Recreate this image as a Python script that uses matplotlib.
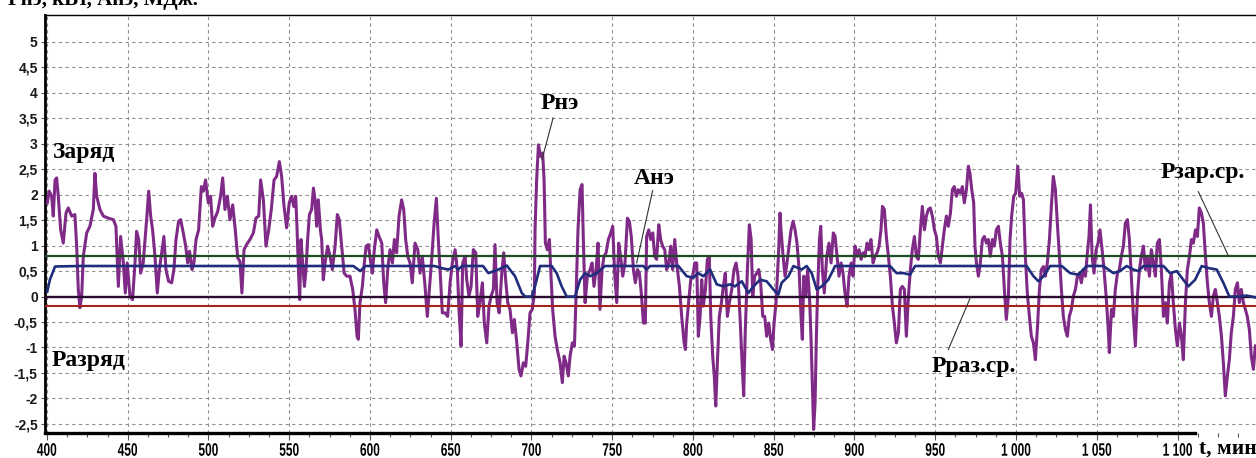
import matplotlib
matplotlib.use("Agg")
import matplotlib.pyplot as plt
from matplotlib.ticker import MultipleLocator, FuncFormatter
from matplotlib.patheffects import AbstractPathEffect
from matplotlib.transforms import Affine2D

# Рнэ — мощность накопителя (время, мин / значение)
pne_t = [400.2, 401.4, 402.9, 403.9, 405.0, 406.0, 407.0, 408.5, 410.1, 411.8, 413.2, 415.3, 417.3, 418.4,
         419.4, 420.4, 421.5, 422.5, 424.6, 426.6, 428.7, 429.7, 430.8, 432.8, 434.9, 438.0, 441.1, 442.7,
         444.2, 445.6, 447.3, 448.5, 449.7, 451.4, 453.0, 454.5, 455.5, 456.8, 458.0, 459.6, 461.7, 463.0,
         464.2, 465.4, 466.9, 468.3, 469.6, 471.0, 472.4, 473.7, 475.3, 477.2, 478.6, 479.9, 481.5, 482.8,
         484.4, 485.9, 487.1, 488.3, 489.8, 491.0, 492.3, 493.9, 495.6, 496.8, 498.2, 499.9, 501.3, 502.6,
         504.0, 505.7, 507.5, 508.8, 510.2, 511.7, 513.3, 515.0, 516.6, 518.1, 519.5, 520.7, 522.0, 523.6,
         525.7, 527.8, 529.4, 531.1, 532.3, 534.0, 535.6, 537.3, 538.9, 540.6, 542.2, 543.9, 545.3, 546.8,
         548.4, 550.0, 551.5, 552.8, 554.0, 554.8, 555.7, 556.5, 557.3, 558.3, 559.4, 560.4, 561.4, 562.5,
         563.9, 565.0, 566.0, 567.0, 568.0, 569.3, 570.1, 571.1, 572.2, 573.8, 575.3, 576.7, 578.4, 579.8,
         581.0, 582.5, 584.0, 585.6, 587.6, 589.3, 590.7, 592.0, 592.8, 593.8, 595.3, 596.5, 597.6, 599.0,
         600.2, 601.5, 602.7, 604.2, 605.6, 607.3, 608.5, 609.7, 611.0, 612.4, 613.9, 615.1, 616.5, 618.0,
         619.6, 620.9, 622.1, 623.4, 624.8, 626.2, 627.9, 629.6, 631.0, 632.4, 634.1, 635.5, 636.8, 638.2,
         639.7, 641.1, 642.3, 643.6, 644.8, 646.5, 648.1, 649.6, 651.0, 652.7, 654.1, 655.1, 656.4, 657.4,
         658.9, 659.9, 661.3, 662.6, 664.0, 665.5, 666.7, 668.1, 669.6, 670.8, 672.3, 673.7, 675.0, 676.4,
         677.4, 678.7, 680.0, 681.6, 682.8, 684.0, 685.3, 686.7, 688.2, 689.4, 690.9, 692.3, 693.5, 695.0,
         696.4, 697.7, 699.1, 700.5, 701.8, 702.2, 703.2, 704.3, 705.7, 706.9, 707.8, 708.6, 709.8, 711.1,
         711.9, 713.1, 714.6, 716.0, 717.7, 719.1, 720.2, 721.4, 722.8, 723.9, 725.3, 726.6, 727.6, 728.8,
         730.1, 731.3, 732.1, 733.2, 734.6, 736.3, 737.5, 738.7, 740.0, 741.2, 742.4, 743.7, 744.9, 746.2,
         747.6, 749.1, 750.3, 751.5, 752.8, 754.0, 755.2, 756.5, 757.9, 759.4, 760.6, 761.8, 763.1, 764.3,
         765.6, 766.8, 768.0, 769.3, 770.5, 771.3, 772.6, 773.8, 775.1, 776.3, 777.5, 778.8, 780.0, 781.2,
         782.5, 783.7, 785.0, 786.2, 787.4, 788.7, 789.9, 791.6, 793.0, 794.5, 795.3, 796.1, 797.3, 798.6,
         799.8, 801.1, 802.3, 803.3, 804.4, 805.4, 806.4, 807.7, 808.9, 810.1, 811.0, 812.2, 813.2, 814.1,
         815.1, 816.3, 817.6, 818.8, 820.0, 821.3, 822.5, 824.0, 825.4, 826.7, 827.9, 829.1, 830.4, 831.4,
         832.4, 833.7, 834.9, 836.0, 837.0, 838.2, 839.5, 840.7, 841.9, 843.2, 844.4, 845.6, 846.9, 848.1,
         849.2, 850.2, 851.4, 853.0, 853.9, 854.5, 855.8, 857.0, 858.2, 859.5, 860.7, 862.0, 863.2, 864.4,
         865.7, 866.9, 867.7, 868.6, 869.8, 871.0, 872.3, 873.1, 873.9, 874.7, 875.6, 876.4, 877.2, 878.3,
         879.1, 880.1, 881.3, 882.8, 884.2, 885.5, 886.9, 888.0, 889.2, 890.4, 891.7, 892.9, 894.1, 895.4,
         896.6, 897.9, 899.1, 900.3, 901.6, 902.8, 904.1, 905.3, 906.5, 907.8, 909.0, 910.2, 911.5, 912.7,
         914.0, 915.2, 916.4, 917.3, 918.5, 919.7, 921.0, 922.2, 923.5, 924.7, 925.9, 927.2, 928.4, 929.6,
         930.9, 932.1, 933.4, 934.6, 935.8, 937.1, 938.3, 939.5, 940.8, 942.0, 943.3, 944.5, 945.7, 947.0,
         948.2, 949.5, 950.7, 951.9, 953.2, 954.4, 955.6, 956.9, 958.1, 959.4, 960.6, 961.8, 963.1, 964.3,
         965.6, 966.8, 968.0, 969.3, 970.5, 971.5, 972.6, 973.8, 974.6, 975.5, 976.7, 977.9, 979.2, 980.4,
         981.7, 982.9, 984.1, 985.4, 986.6, 987.8, 989.1, 990.3, 991.6, 992.8, 994.0, 995.3, 996.3, 997.3,
         998.6, 999.8, 1001.1, 1002.3, 1003.5, 1004.6, 1005.8, 1007.0, 1008.3, 1009.5, 1010.8, 1012.0, 1013.2,
         1014.5, 1015.7, 1017.0, 1018.2, 1019.4, 1020.7, 1021.9, 1023.1, 1024.4, 1025.6, 1026.9, 1028.1,
         1029.3, 1030.6, 1031.8, 1033.0, 1034.3, 1035.5, 1036.8, 1038.0, 1039.2, 1040.5, 1041.7, 1043.0,
         1044.2, 1045.2, 1046.1, 1047.1, 1048.3, 1049.6, 1050.8, 1052.0, 1053.3, 1054.5, 1055.8, 1057.0,
         1057.8, 1059.1, 1060.3, 1061.5, 1062.8, 1064.0, 1065.2, 1066.5, 1067.7, 1069.0, 1070.2, 1071.4,
         1072.7, 1073.9, 1075.2, 1076.4, 1077.6, 1078.9, 1080.1, 1081.3, 1082.6, 1083.8, 1085.1, 1086.3,
         1087.5, 1088.8, 1090.0, 1091.3, 1092.5, 1093.7, 1095.0, 1096.2, 1097.4, 1098.7, 1099.9, 1101.2,
         1102.4, 1103.6, 1104.9, 1106.1, 1107.4, 1108.6, 1109.8, 1111.1, 1112.3, 1113.5, 1114.8, 1116.0,
         1117.3, 1118.5, 1119.7, 1121.0, 1122.2, 1123.4, 1124.7, 1125.9, 1127.2, 1128.4, 1129.6, 1130.9,
         1132.1, 1133.3, 1134.6, 1135.8, 1137.1, 1138.3, 1139.5, 1140.8, 1142.0, 1143.2, 1144.5, 1145.7,
         1147.0, 1148.2]
pne_v = [1.84, 2.07, 1.97, 1.58, 2.29, 2.33, 1.97, 1.31, 1.05, 1.64, 1.74, 1.58, 1.61, 0.99,
         0.14, -0.22, 0.01, 0.79, 1.25, 1.38, 1.71, 2.42, 1.97, 1.71, 1.58, 1.54, 1.51, 1.38,
         0.20, 1.18, 0.66, 0.07, 0.66, 0.01, -0.06, 0.66, 1.28, 1.12, 0.46, 0.66, 1.51, 2.07,
         1.58, 1.31, 0.79, 0.07, 0.53, 0.86, 1.18, 0.53, 0.30, 0.27, 0.53, 1.12, 1.48, 1.51,
         1.25, 0.99, 0.66, 0.89, 0.53, 0.66, 1.12, 1.31, 2.16, 2.07, 2.29, 1.84, 1.97, 1.38,
         1.54, 1.67, 1.97, 2.33, 1.71, 1.97, 1.51, 1.80, 1.31, 0.76, 0.69, 0.07, 0.92, 1.02,
         1.12, 1.25, 1.54, 1.58, 2.29, 1.90, 0.99, 1.31, 1.71, 2.29, 2.36, 2.65, 2.36, 1.77,
         1.35, 1.84, 1.97, 1.77, 1.97, 1.38, 0.53, -0.06, 1.12, 0.66, 0.20, 0.53, 1.12, 1.61,
         1.71, 2.13, 1.90, 1.38, 1.90, 1.31, 1.12, 0.33, 0.66, 0.99, 0.79, 0.53, 0.99, 1.61,
         1.51, 0.99, 0.46, 0.40, 0.40, 0.14, -0.25, -0.78, -0.84, -0.12, 0.20, 0.66, 0.99, 1.02,
         0.73, 0.46, 0.92, 1.31, 1.18, 1.05, 0.27, -0.12, 0.53, 0.92, 0.66, 1.12, 0.86, 1.58,
         1.90, 1.71, 1.12, 0.79, 0.66, 0.27, 1.05, 0.92, 0.46, 0.79, 0.20, -0.39, 0.14, 0.73,
         1.44, 1.93, 1.12, 0.40, -0.32, -0.32, -0.39, 0.27, 0.66, 0.92, 0.53, -0.25, -0.97, 0.66,
         0.79, 0.33, 0.01, 0.20, 0.92, 0.86, -0.39, -0.12, 0.27, -0.52, -0.91, -0.19, 0.01, 0.14,
         1.02, -0.12, -0.32, 0.46, 0.86, 0.33, -0.12, -0.25, -0.71, -0.45, -0.91, -1.43, -1.56, -1.30,
         -1.37, -0.91, -0.32, -0.25, 0.07, 1.31, 2.29, 2.98, 2.75, 2.82, 2.29, 1.05, 0.92, 1.12,
         0.53, -0.25, -0.78, -1.04, -1.30, -1.69, -1.17, -1.30, -1.56, -1.17, -0.91, -0.97, 0.01, 1.31,
         2.10, 2.20, 1.12, -0.12, 0.40, 0.53, 0.66, 0.20, 0.53, 1.05, -0.25, 0.53, 0.79, 0.86,
         1.12, 1.25, 1.38, 0.46, -0.12, 1.05, 0.79, 0.40, 0.66, 1.54, 1.48, 1.18, 0.53, 0.27,
         0.53, 0.46, 0.07, -0.52, -0.52, 1.18, 1.31, 1.12, 1.25, 0.79, 0.73, 1.41, 1.12, 0.99,
         0.92, 0.53, 0.66, 0.99, 0.53, 1.12, 0.66, 0.20, -0.39, -0.91, -1.04, -0.52, -0.12, 0.33,
         0.40, 0.66, 0.66, -0.78, -0.39, 0.33, -0.19, 0.14, 0.73, 0.79, -0.39, -1.17, -1.56, -2.15,
         -1.30, -0.39, -0.12, 0.20, 0.46, -0.39, -0.12, 0.14, 0.53, 0.66, 0.40, -0.39, -1.30, -1.95,
         -0.65, 0.53, 1.41, 1.12, 0.01, 0.40, 0.46, 0.53, 0.27, -0.39, -0.39, -0.78, -0.52, -0.84,
         -1.04, -0.52, -0.12, 0.86, 1.64, 1.31, 0.79, 0.40, 0.66, 0.99, 1.31, 1.48, 1.31, 1.05,
         0.53, -0.39, -0.84, 0.40, 0.01, 0.53, -0.12, -0.84, -1.69, -2.61, -2.08, -0.78, 0.14, 1.12,
         1.38, 0.53, 0.07, 0.79, 1.05, 0.66, 1.25, 1.18, 0.79, 0.40, 0.66, 0.46, 0.07, -0.19,
         0.40, 0.66, 0.40, 0.99, 0.79, 0.92, 0.73, 0.86, 0.79, 1.05, 0.92, 1.12, 0.66, 0.79,
         0.86, 0.99, 1.31, 1.77, 1.71, 1.18, 0.79, 0.40, -0.19, -0.52, -0.91, -0.71, 0.14, 0.20,
         0.14, -0.78, 0.01, 0.53, 0.92, 1.18, 0.79, 0.73, 1.31, 1.77, 1.31, 1.58, 1.71, 1.74,
         1.58, 1.31, 1.18, 0.79, 0.66, 0.99, 1.31, 1.58, 1.38, 1.64, 2.10, 2.16, 1.97, 2.10,
         2.03, 2.16, 1.84, 2.10, 2.56, 2.42, 2.10, 1.84, 0.99, 0.66, 0.40, 0.66, 1.12, 1.18,
         1.05, 1.12, 0.79, 1.12, 0.99, 1.31, 1.38, 1.05, 0.79, 0.14, -0.45, 0.01, 1.12, 1.58,
         1.97, 2.03, 2.56, 1.97, 2.03, 1.90, 0.79, 0.07, -0.39, -0.78, -0.91, -1.24, -0.65,
         0.14, 0.53, 0.59, 0.40, 0.66, 1.12, 1.77, 2.36, 2.10, 1.44, 0.79, 0.14,
         -0.39, -0.65, -0.78, -0.39, -0.25, 0.01, 0.14, 0.40, 0.46, 0.27, 0.53, 0.40,
         0.86, 1.18, 1.80, 0.79, 0.46, 0.92, 1.05, 1.31, 0.92, 0.53, 0.01, -0.58,
         -1.10, -0.25, -0.39, 0.14, 0.46, 0.53, 0.79, 0.99, 1.44, 1.51, 1.12, 0.40,
         -0.39, -0.97, 0.01, 0.53, 0.79, 0.99, 0.53, 0.79, 0.40, 0.92, 0.66, 0.40,
         1.05, 1.12, 0.53, -0.39, -0.12, -0.52, 0.27, 0.46, -0.12, -0.65, -0.97, -0.52,
         -0.78, -1.24, -0.12, 0.53, 0.79, 1.12, 1.05, 1.31, 1.18, 1.74, 1.64, 1.44,
         0.79, 0.27, -0.12, -0.39, 0.01, 0.14, -0.12, -0.39, -0.78, -1.30, -1.95, -1.56,
         -1.24, -0.71, -0.39, 0.14, 0.27, -0.12, 0.14, -0.12, -0.25, -0.39, -0.65, -1.17,
         -1.43, -0.97]

# Анэ — энергия накопителя
ane_t = [400.2, 401.8, 403.4, 405.0, 420.0, 440.0, 500.0, 589.7, 594.0, 597.0, 640.0, 644.0, 648.5,
         652.7, 654.7, 657.0, 670.0, 673.3, 679.5, 684.7, 689.8, 694.0, 696.0, 700.1, 702.2, 705.3,
         712.5, 715.6, 718.7, 721.8, 727.0, 730.1, 733.2, 736.3, 740.4, 745.5, 769.3, 771.3, 773.4,
         791.0, 796.1, 800.2, 803.3, 806.4, 810.6, 814.7, 818.8, 823.0, 826.0, 830.2, 834.3, 837.4,
         841.5, 845.6, 849.8, 852.9, 854.9, 859.1, 862.2, 867.3, 870.4, 873.5, 876.6, 879.7, 883.8,
         888.0, 922.0, 926.1, 930.3, 934.4, 937.5, 1006.6, 1010.8, 1013.9, 1017.0, 1021.1, 1028.3,
         1033.5, 1038.6, 1043.8, 1054.1, 1060.3, 1064.4, 1068.5, 1072.7, 1075.8, 1078.9, 1091.3,
         1095.4, 1099.5, 1103.6, 1106.7, 1110.9, 1115.0, 1119.1, 1124.3, 1128.4, 1132.1, 1138.7,
         1142.8, 1148.6]
ane_v = [0.10, 0.33, 0.46, 0.59, 0.60, 0.60, 0.60, 0.60, 0.50, 0.60, 0.60, 0.56, 0.53,
         0.60, 0.53, 0.60, 0.60, 0.46, 0.53, 0.61, 0.40, 0.07, 0.00, 0.00, 0.20, 0.60,
         0.60, 0.46, 0.20, 0.00, 0.00, 0.33, 0.46, 0.40, 0.46, 0.60, 0.60, 0.53, 0.60,
         0.60, 0.40, 0.37, 0.46, 0.40, 0.53, 0.24, 0.20, 0.24, 0.20, 0.30, 0.07, 0.20,
         0.33, 0.30, 0.14, 0.04, 0.27, 0.40, 0.60, 0.53, 0.60, 0.46, 0.14, 0.20, 0.33,
         0.60, 0.60, 0.46, 0.46, 0.43, 0.60, 0.60, 0.40, 0.30, 0.40, 0.60, 0.60,
         0.46, 0.43, 0.60, 0.60, 0.46, 0.50, 0.60, 0.53, 0.50, 0.60, 0.60,
         0.46, 0.50, 0.33, 0.20, 0.33, 0.60, 0.56, 0.53, 0.27, 0.00, 0.00,
         0.02, -0.02]

p_zar = 0.79     # Рзар.ср.
p_raz = -0.176   # Рраз.ср.


class Condense(AbstractPathEffect):
    # сжатие подписи по горизонтали (узкий шрифт)
    def __init__(self, sx):
        super().__init__()
        self.sx = sx

    def draw_path(self, renderer, gc, tpath, affine, rgbFace=None):
        ext = tpath.get_extents(affine)
        cx = (ext.x0 + ext.x1) / 2
        a = affine + Affine2D().translate(-cx, 0).scale(self.sx, 1).translate(cx, 0)
        renderer.draw_path(gc, tpath, a, rgbFace)


W, H = 1256, 458
fig = plt.figure(figsize=(W / 100, H / 100), dpi=100)
ax = fig.add_axes([44.7 / W, 1 - 433 / H, 1 - 44.7 / W, (433 - 15) / H])
ax.set_xlim(398.6, 1148.6)
ax.set_ylim(-2.68, 5.53)

ax.plot(pne_t, pne_v, color="#7e2a86", lw=2.2, zorder=3, solid_joinstyle="round")
ax.axhline(p_zar, color="#1f4a26", lw=1.6, zorder=4)
ax.axhline(0, color="#2a0c2e", lw=1.7, zorder=4)
ax.axhline(p_raz, color="#a3241e", lw=1.5, zorder=4)
ax.plot(ane_t, ane_v, color="#1f2d7c", lw=1.9, zorder=5)

ax.xaxis.set_major_locator(MultipleLocator(50))
ax.xaxis.set_minor_locator(MultipleLocator(12.5))
ax.set_yticks([v * 0.5 for v in range(-5, 11)])
ax.grid(True, which="major", color="#909090", ls=(0, (3, 3)), lw=0.8, zorder=1)

ax.xaxis.set_major_formatter(FuncFormatter(
    lambda v, p: "" if v > 1100 else f"{int(v):,}".replace(",", " ")))
ax.yaxis.set_major_formatter(FuncFormatter(
    lambda v, p: f"{v:g}".replace(".", ",")))

ax.tick_params(axis="x", which="major", length=5, width=0.8, color="#555555", pad=2,
               labelsize=13)
ax.tick_params(axis="x", which="minor", length=3, width=0.8, color="#555555")
ax.tick_params(axis="y", length=3, width=0.8, color="#555555", pad=2, labelsize=10,
               labelcolor="#1a1a1a")
for lab in ax.get_xticklabels():
    lab.set_family(["Liberation Sans", "DejaVu Sans"])
    lab.set_fontweight("bold")
    lab.set_path_effects([Condense(0.66)])
for lab in ax.get_yticklabels():
    lab.set_family(["Liberation Sans", "DejaVu Sans"])
    lab.set_fontweight("bold")

ax.spines["left"].set_linewidth(2.0)
ax.spines["bottom"].set_linewidth(2.4)
ax.spines["bottom"].set_bounds(398.6, 1111)
ax.spines["top"].set_linewidth(1.0)
ax.spines["right"].set_visible(False)

serif = dict(family=["Liberation Serif", "DejaVu Serif"], fontweight="bold", color="black")
ax.text(403.7, 2.83, "Заряд", fontsize=17, va="center", ha="left", **serif)
ax.text(402.9, -1.25, "Разряд", fontsize=17, va="center", ha="left", **serif)
ax.text(717.6, 3.80, "Рнэ", fontsize=17, va="center", ha="center", **serif)
ax.text(775.9, 2.31, "Анэ", fontsize=17, va="center", ha="center", **serif)
ax.text(1115.8, 2.43, "Рзар.ср.", fontsize=17, va="center", ha="center", **serif)
ax.text(974.0, -1.37, "Рраз.ср.", fontsize=17, va="center", ha="center", **serif)
ax.plot([713.4, 706.5], [3.51, 2.69], color="#333333", lw=0.8, zorder=6)
ax.plot([775.0, 765.1], [2.08, 0.66], color="#333333", lw=0.8, zorder=6)
ax.plot([1112.9, 1131.5], [2.06, 0.80], color="#333333", lw=0.8, zorder=6)
ax.plot([958.1, 972.0], [-1.04, 0.0], color="#333333", lw=0.8, zorder=6)

fig.text(1199 / W, 1 - 449 / H, "t, мин", fontsize=15.5, va="center", ha="left", **serif)
fig.text(8 / W, 1 - 5 / H, "Рнэ, кВт, Анэ, МДж.", fontsize=15, va="baseline", ha="left", **serif)

fig.savefig("out.png", dpi=100)
